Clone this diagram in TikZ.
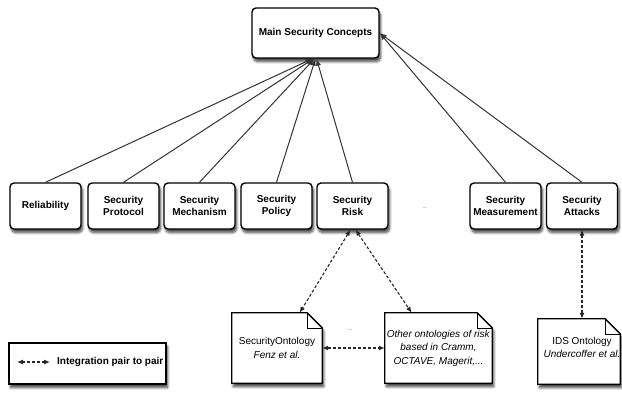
\documentclass[tikz,border=0pt]{standalone}
\usepackage{fontspec}
\setmainfont{Liberation Sans}
\usetikzlibrary{arrows.meta,calc,shadows.blur}

% outline of a "document" sheet with a folded top-right corner
\newcommand\docsheet[1]{%
  \draw[docedge] (#1.north west) -- ($(#1.north east)+(-15,0)$)
     -- ($(#1.north east)+(0,15)$) -- (#1.south east) -- (#1.south west) -- cycle;
  \draw[foldedge] ($(#1.north east)+(-15,0)$) -- ($(#1.north east)+(-15,15)$)
     -- ($(#1.north east)+(0,15)$);
}

\begin{document}
\begin{tikzpicture}[x=1pt,y=-1pt,
  softshadow/.style={blur shadow={shadow xshift=1.5pt, shadow yshift=-3.5pt,
      shadow blur radius=2.5pt, shadow blur steps=8, shadow opacity=75}},
  concept/.style={draw=black, line width=1.4pt, fill=white, rounded corners=4pt,
      minimum width=71pt, minimum height=46pt, align=center, inner sep=1pt,
      font=\bfseries\fontsize{10}{12.5}\selectfont, softshadow},
  docframe/.style={minimum height=70pt, inner sep=0pt},
  doctext/.style={align=center, inner sep=1pt, font=\fontsize{10}{13.5}\selectfont},
  docedge/.style={draw=black, line width=1.3pt, fill=white, softshadow},
  foldedge/.style={draw=black, line width=0.6pt},
  link/.style={draw=black!80, line width=1pt, -{Latex[length=7pt,width=5pt]}},
  integ/.style={draw=black!85, line width=1.1pt, dash pattern=on 3pt off 2pt,
      {Latex[length=6pt,width=5pt]}-{Latex[length=6pt,width=5pt]}},
  dots/.style={font=\fontsize{6}{6}\selectfont, text=black!60},
  ]
\useasboundingbox (0,0) rectangle (622,394);

% top concept
\node[concept, minimum width=127pt, minimum height=50pt] (main) at (315.5,33) {Main Security Concepts};

% concept row
\node[concept] (rel)  at (45.5,206)  {Reliability};
\node[concept] (prot) at (123.5,206) {Security\\Protocol};
\node[concept] (mech) at (199.5,206) {Security\\Mechanism};
\node[concept] (pol)  at (276.5,206) {Security\\Policy};
\node[concept] (risk) at (352.5,206) {Security\\Risk};
\node[concept] (meas) at (505.5,206) {Security\\Measurement};
\node[concept] (att)  at (582,206)   {Security\\Attacks};
\node[dots] (rowdots) at (425,208) {...};

% links up to the main concept
\draw[link] (rel.north)  -- ($(main.south)+(-3,0)$);
\draw[link] (prot.north) -- ($(main.south)+(-2,0)$);
\draw[link] (mech.north) -- ($(main.south)+(-1,0)$);
\draw[link] (pol.north)  -- ($(main.south)+(0,0)$);
\draw[link] (risk.north) -- ($(main.south)+(1,0)$);
\draw[link] (meas.north) -- (main.east);
\draw[link] (att.north)  -- (main.east);

% ontology sheets
\node[docframe, minimum width=90pt] (secont) at (277,348) {};
\node[docframe, minimum width=107pt] (other) at (438.5,348) {};
\node[docframe, minimum width=82pt, minimum height=65pt] (ids) at (579,351.5) {};
\docsheet{secont}
\docsheet{other}
\docsheet{ids}

\node[doctext] (secontlabel) at (secont) {SecurityOntology\\\textit{Fenz et al.}};
\node[doctext] (otherlabel) at (other)
  {\textit{Other ontologies of risk}\\\textit{based in Cramm,}\\\textit{OCTAVE, Magerit,...}};
\node[doctext] (idslabel) at ($(ids)+(3,-4)$) {IDS Ontology\\\textit{Undercoffer et al.}};
\node[dots] (ontdots) at (350,330) {...};

% integration links
\draw[integ] ($(risk.south)+(-2,0)$) -- ($(secont.north west)!0.75!(secont.north east)$);
\draw[integ] ($(risk.south)+(3,0)$) -- ($(other.north west)!0.25!(other.north east)$);
\draw[integ] (secont.east) -- (other.west);
\draw[integ] (att.south) -- (att.south |- ids.north);

% legend
\node[draw=black, line width=1.1pt, fill=white, minimum width=157pt, minimum height=41pt,
      softshadow] (legend) at (87.5,363.5) {};
\coordinate (legA) at (17,362);
\coordinate (legB) at (50,362);
\draw[integ] (legA) -- (legB);
\node[anchor=west, inner sep=0pt, font=\bfseries\fontsize{10}{12}\selectfont] (legtext)
  at (57,362) {Integration pair to pair};
\end{tikzpicture}
\end{document}
